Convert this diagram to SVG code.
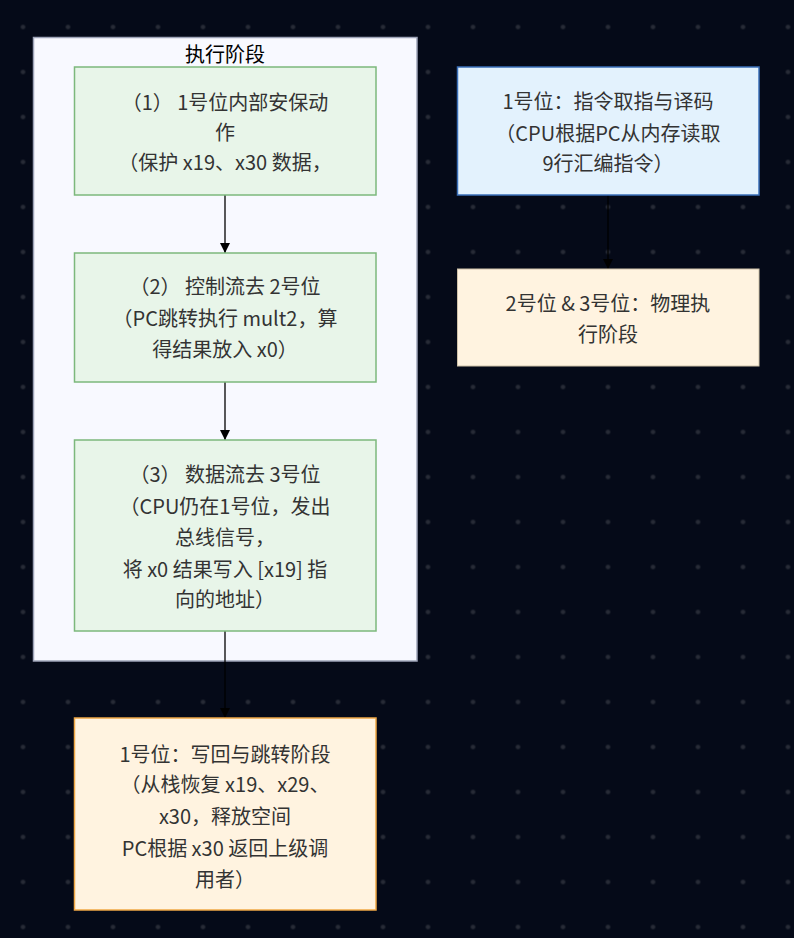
<svg xmlns="http://www.w3.org/2000/svg" width="794" height="938" viewBox="0 0 794 938">
<defs>
<pattern id="dots" patternUnits="userSpaceOnUse" x="0.5" y="4.5" width="45" height="45">
<circle cx="22.5" cy="22.5" r="2.3" fill="#272b36"/>
</pattern>
<marker id="arr" viewBox="0 0 10 10" refX="10" refY="5" markerWidth="10" markerHeight="10" markerUnits="userSpaceOnUse" orient="auto">
<path d="M0,0 L10,5 L0,10 z" fill="#000"/>
</marker>
<style>
.t{font-family:"Noto Sans CJK SC","Noto Sans",sans-serif;font-size:20px;fill:#333;text-anchor:middle;dominant-baseline:central}
.green{fill:#e8f5e9;stroke:#7cb87c;stroke-width:1.5}
.blue{fill:#e3f2fd;stroke:#3a6fb8;stroke-width:1.5}
.orange{fill:#fff3e0;stroke:#f0a845;stroke-width:1.5}
.beige{fill:#fff3e0;stroke:#cfc2a8;stroke-width:1}
.edge{stroke:#000;stroke-width:1.3;fill:none;marker-end:url(#arr)}
</style>
</defs>
<rect width="794" height="938" fill="#050a18"/>
<rect width="794" height="938" fill="url(#dots)"/>
<g id="cluster-exec">
<rect x="33.5" y="37.5" width="383.5" height="623.5" fill="#f8f9ff" stroke="#9ea4b8" stroke-width="1.5"/>
<text class="t" x="225" y="53" style="fill:#000">执行阶段</text>
</g>
<g id="connectors">
<line class="edge" x1="225" y1="195" x2="225" y2="253"/>
<line class="edge" x1="225" y1="382" x2="225" y2="440"/>
<line class="edge" x1="225" y1="631" x2="225" y2="718"/>
<line class="edge" x1="608" y1="195" x2="608" y2="269"/>
</g>
<g id="n1">
<rect class="green" x="74.5" y="67" width="301.5" height="128"/>
<text class="t" x="225" y="101">（1） 1号位内部安保动</text>
<text class="t" x="225" y="131">作</text>
<text class="t" x="225" y="161">（保护 x19、x30 数据，</text>
</g>
<g id="n2">
<rect class="green" x="74.5" y="253" width="301.5" height="129"/>
<text class="t" x="225" y="285">（2） 控制流去 2号位</text>
<text class="t" x="225" y="317">（PC跳转执行 mult2，算</text>
<text class="t" x="225" y="348">得结果放入 x0）</text>
</g>
<g id="n3">
<rect class="green" x="74.5" y="440" width="301.5" height="191"/>
<text class="t" x="225" y="473">（3） 数据流去 3号位</text>
<text class="t" x="225" y="505">（CPU仍在1号位，发出</text>
<text class="t" x="225" y="536">总线信号，</text>
<text class="t" x="225" y="568">将 x0 结果写入 [x19] 指</text>
<text class="t" x="225" y="598">向的地址）</text>
</g>
<g id="n4">
<rect class="orange" x="74.5" y="718" width="301.5" height="192"/>
<text class="t" x="225" y="753">1号位：写回与跳转阶段</text>
<text class="t" x="225" y="783">（从栈恢复 x19、x29、</text>
<text class="t" x="225" y="815">x30，释放空间</text>
<text class="t" x="225" y="847">PC根据 x30 返回上级调</text>
<text class="t" x="225" y="878">用者）</text>
</g>
<g id="r1">
<rect class="blue" x="457.5" y="67" width="301.5" height="128"/>
<text class="t" x="608" y="100">1号位：指令取指与译码</text>
<text class="t" x="608" y="132">（CPU根据PC从内存读取</text>
<text class="t" x="608" y="162">9行汇编指令）</text>
</g>
<g id="r2">
<rect class="beige" x="457.5" y="269" width="301.5" height="97"/>
<text class="t" x="608" y="302">2号位 &amp; 3号位：物理执</text>
<text class="t" x="608" y="333">行阶段</text>
</g>
</svg>
